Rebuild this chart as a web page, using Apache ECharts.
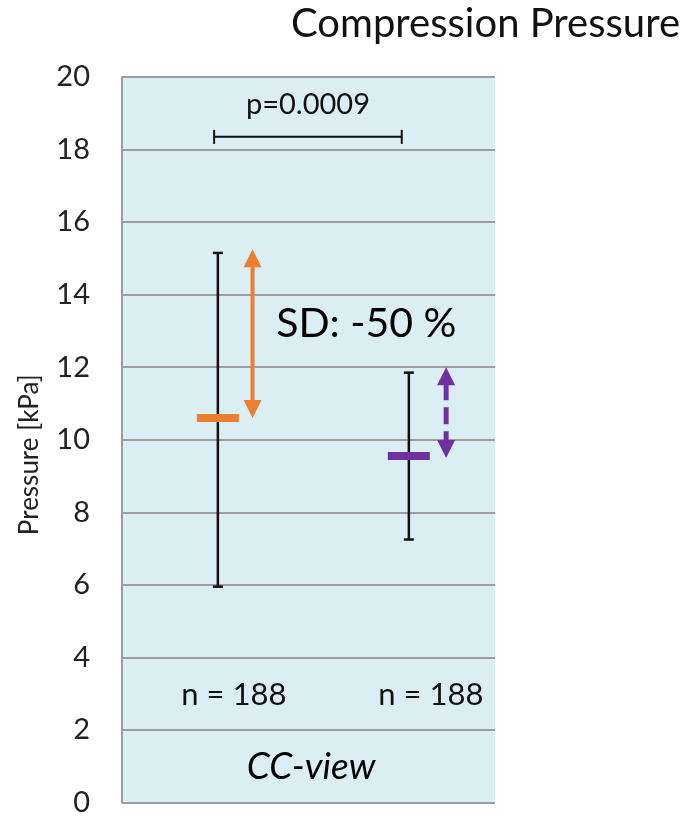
<!DOCTYPE html>
<html>
<head>
<meta charset="utf-8">
<script src="https://cdn.jsdelivr.net/npm/echarts@6/dist/echarts.min.js"></script>
<style>
  html, body { margin: 0; padding: 0; background: #fff; }
  #chart { width: 689px; height: 817px; }
</style>
</head>
<body>
<div id="chart"></div>
<script>
// values (kPa)
const groupNames = ["A", "B"];
const means = [10.6, 9.55];
const sdLow = [5.95, 7.25];
const sdHigh = [15.15, 11.85];
const arrowLow = [10.6, 9.5];
const arrowHigh = [15.25, 12.0];
const counts = [188, 188];
const pValue = "0.0009";
const bracketLevel = 18.35;
const yTicks = [0, 2, 4, 6, 8, 10, 12, 14, 16, 18, 20];

// horizontal placement inside the plot (0..1)
const groupX = [0.257, 0.769];
const arrowX = [0.35, 0.869];
const bracketX = [0.247, 0.75];
const countX = [0.30, 0.828];

const ORANGE = "#ED7D31";
const PURPLE = "#7030A0";
const FONT = "Lato";

const chart = echarts.init(document.getElementById("chart"), null, { renderer: "canvas" });

function arrowHead(tip, dir, color) {
  // dir: -1 pointing up, 1 pointing down
  const w = 9, h = 18;
  return {
    type: "polygon",
    shape: { points: [[tip[0], tip[1]], [tip[0] - w, tip[1] - dir * h], [tip[0] + w, tip[1] - dir * h]] },
    style: { fill: color }
  };
}

function label(text, x, y, size, extra) {
  return {
    type: "text",
    style: Object.assign({
      text: text, x: x, y: y, align: "center", verticalAlign: "middle",
      fontFamily: FONT, fontSize: size, fill: "#111"
    }, extra || {})
  };
}

const option = {
  animation: false,
  grid: { left: 122, right: 194, top: 77, bottom: 13, show: true, backgroundColor: "#DBEEF3", borderWidth: 0 },
  xAxis: { type: "value", min: 0, max: 1, show: false },
  yAxis: {
    type: "value", min: yTicks[0], max: yTicks[yTicks.length - 1], interval: 2,
    name: "Pressure [kPa]", nameLocation: "middle", nameGap: 79,
    nameTextStyle: { fontFamily: FONT, fontSize: 26, color: "#222", padding: [0, 30, 0, 0] },
    axisLine: { show: true, lineStyle: { color: "#9d9d9d", width: 2 } },
    axisTick: { show: false },
    axisLabel: { fontFamily: FONT, fontSize: 29, color: "#222", margin: 32 },
    splitLine: { show: true, lineStyle: { color: "#9d9d9d", width: 2 } }
  },
  graphic: [
    { type: "text", right: 9, top: 4, style: { text: "Compression Pressure", fontFamily: FONT, fontSize: 40, fill: "#111" } }
  ],
  series: [
    {
      // SD whiskers
      type: "custom",
      data: groupNames.map((g, i) => [groupX[i], sdLow[i], sdHigh[i]]),
      renderItem: function (params, api) {
        const x = api.value(0);
        const top = api.coord([x, api.value(2)]);
        const bot = api.coord([x, api.value(1)]);
        const st = { stroke: "#111", lineWidth: 2.5 };
        return {
          type: "group",
          children: [
            { type: "line", shape: { x1: top[0], y1: top[1], x2: bot[0], y2: bot[1] }, style: st },
            { type: "line", shape: { x1: top[0] - 5, y1: top[1], x2: top[0] + 5, y2: top[1] }, style: st },
            { type: "line", shape: { x1: bot[0] - 5, y1: bot[1], x2: bot[0] + 5, y2: bot[1] }, style: st }
          ]
        };
      },
      z: 3
    },
    {
      // mean markers
      type: "scatter",
      symbol: "rect",
      symbolSize: [42, 8],
      data: groupNames.map((g, i) => ({ value: [groupX[i], means[i]], itemStyle: { color: i === 0 ? ORANGE : PURPLE, opacity: 1 } })),
      z: 4
    },
    {
      // SD arrows
      type: "custom",
      data: groupNames.map((g, i) => [arrowX[i], arrowLow[i], arrowHigh[i], i]),
      renderItem: function (params, api) {
        const x = api.value(0);
        const i = api.value(3);
        const color = i === 0 ? ORANGE : PURPLE;
        const top = api.coord([x, api.value(2)]);
        const bot = api.coord([x, api.value(1)]);
        return {
          type: "group",
          children: [
            {
              type: "line",
              shape: { x1: top[0], y1: top[1] + 16, x2: bot[0], y2: bot[1] - 16 },
              style: { stroke: color, lineWidth: i === 0 ? 4 : 5, lineDash: i === 0 ? null : [17, 7] }
            },
            arrowHead(top, -1, color),
            arrowHead(bot, 1, color)
          ]
        };
      },
      z: 3
    },
    {
      // p-value bracket
      type: "custom",
      data: [[bracketX[0], bracketX[1], bracketLevel]],
      renderItem: function (params, api) {
        const a = api.coord([api.value(0), api.value(2)]);
        const b = api.coord([api.value(1), api.value(2)]);
        const st = { stroke: "#111", lineWidth: 2 };
        return {
          type: "group",
          children: [
            { type: "line", shape: { x1: a[0], y1: a[1], x2: b[0], y2: b[1] }, style: st },
            { type: "line", shape: { x1: a[0], y1: a[1] - 7, x2: a[0], y2: a[1] + 7 }, style: st },
            { type: "line", shape: { x1: b[0], y1: b[1] - 7, x2: b[0], y2: b[1] + 7 }, style: st },
            label("p=" + pValue, (a[0] + b[0]) / 2, a[1] - 32, 29)
          ]
        };
      },
      z: 3
    },
    {
      // annotations
      type: "custom",
      data: [0],
      renderItem: function (params, api) {
        const children = groupNames.map((g, i) => {
          const p = api.coord([countX[i], 2.95]);
          return label("n = " + counts[i], p[0], p[1], 31);
        });
        const sd = api.coord([0.655, 13.2]);
        children.push(label("SD: -50 %", sd[0], sd[1], 41, { fill: "#000" }));
        const cc = api.coord([0.507, 0.98]);
        children.push(label("CC-view", cc[0], cc[1], 37, { fill: "#000", fontStyle: "italic" }));
        return { type: "group", children: children };
      },
      z: 5
    }
  ]
};

chart.setOption(option);
</script>
</body>
</html>
